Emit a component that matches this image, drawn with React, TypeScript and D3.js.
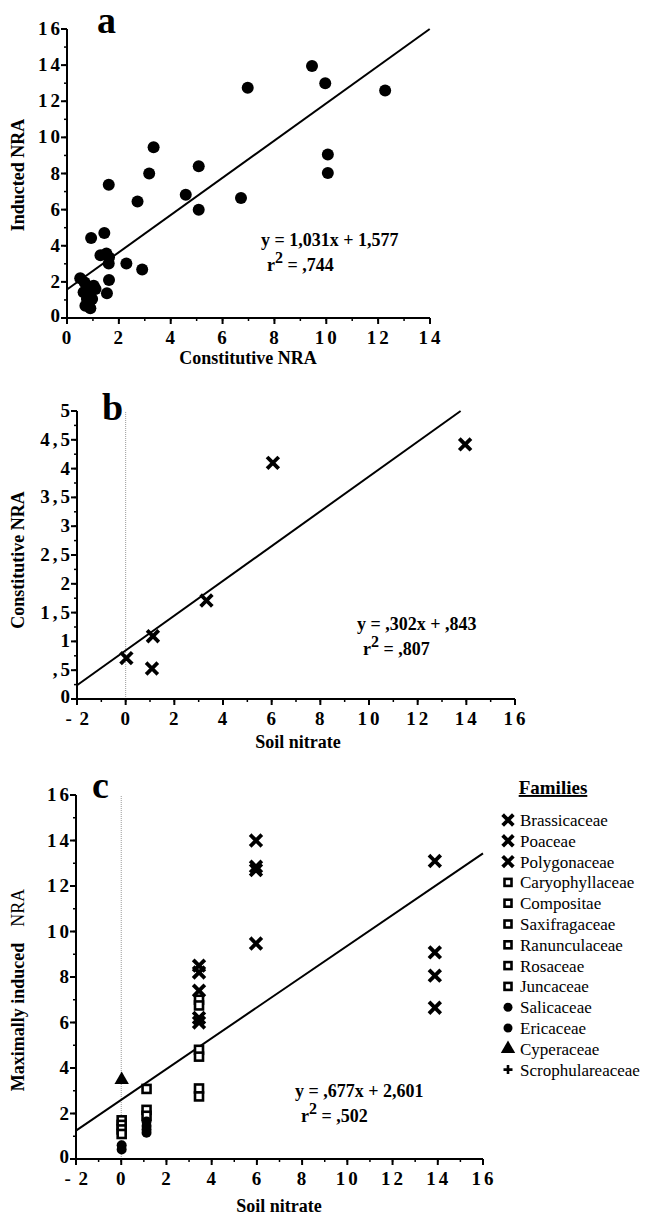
import React from 'react';
import * as d3 from 'd3';

const W = 654;
const H = 1216;
const SERIF = '"Liberation Serif", "Times New Roman", serif';

// panel a : inducted vs constitutive NRA
const aConstitutive = [9.45, 9.96, 6.97, 12.27, 3.34, 10.06, 10.06, 3.17, 5.08, 1.61, 2.72, 4.58, 5.08, 6.71, 0.93, 1.44, 1.29, 1.52, 1.62, 1.61, 2.29, 2.9, 1.62, 1.54, 0.51, 0.77, 1.03, 0.64, 0.9, 1.1, 0.77, 0.97, 0.71, 0.9, 0.84, 0.68];
const aInducted = [13.95, 13.0, 12.75, 12.6, 9.45, 9.05, 8.03, 8.0, 8.4, 7.38, 6.45, 6.83, 5.99, 6.65, 4.43, 4.71, 3.48, 3.57, 3.35, 3.02, 3.02, 2.69, 2.1, 1.37, 2.2, 1.78, 1.78, 1.42, 1.42, 1.6, 1.05, 1.05, 0.68, 0.54, 0.87, 1.97];
const aFit = [1.031, 1.577];

// panel b : constitutive NRA vs soil nitrate
const bNitrate = [0.03, 1.08, 1.12, 3.32, 6.05, 13.95];
const bConstitutive = [0.71, 0.53, 1.09, 1.71, 4.1, 4.42];
const bFit = [0.302, 0.843];

// panel c : maximally induced NRA vs soil nitrate, by symbol group
const cCrossX = [3.44, 3.44, 3.44, 3.44, 3.44, 5.96, 5.96, 5.96, 5.96, 13.87, 13.87, 13.87, 13.87];
const cCrossY = [8.5, 8.2, 7.4, 6.2, 6.0, 14.0, 12.85, 12.7, 9.47, 13.1, 9.08, 8.06, 6.65];
const cSquareX = [0.02, 0.02, 0.02, 0.02, 1.12, 1.12, 1.12, 3.44, 3.44, 3.44, 3.44, 3.44, 3.44];
const cSquareY = [1.7, 1.5, 1.3, 1.1, 3.08, 2.16, 1.9, 7.0, 6.75, 4.8, 4.5, 3.1, 2.75];
const cCircleX = [0.02, 0.02, 1.12, 1.12, 1.12, 1.12];
const cCircleY = [0.6, 0.42, 1.65, 1.45, 1.3, 1.15];
const cTriangleX = [0.02];
const cTriangleY = [3.48];
const cFit = [0.677, 2.601];

const families = ['Brassicaceae', 'Poaceae', 'Polygonaceae', 'Caryophyllaceae', 'Compositae', 'Saxifragaceae', 'Ranunculaceae', 'Rosaceae', 'Juncaceae', 'Salicaceae', 'Ericaceae', 'Cyperaceae', 'Scrophulareaceae'];
const familySymbols = ['x', 'x', 'x', 'sq', 'sq', 'sq', 'sq', 'sq', 'sq', 'o', 'o', 'tri', 'plus'];

// scales
const ax = d3.scaleLinear().domain([0, 14]).range([67, 430]);
const ay = d3.scaleLinear().domain([0, 16]).range([318, 29]);
const bx = d3.scaleLinear().domain([-2, 16]).range([77, 515]);
const by = d3.scaleLinear().domain([0, 5]).range([699, 411]);
const cx = d3.scaleLinear().domain([-2, 16]).range([76, 483]);
const cy = d3.scaleLinear().domain([0, 16]).range([1159, 795]);

// 4,5 style labels used on panel b
const commaFmt = (v) => {
  if (v === 0) return '0';
  if (Number.isInteger(v)) return String(v);
  const i = Math.floor(v);
  return (i ? String(i) : '') + ',5';
};

function Marker({ type, x, y, s = 5 }) {
  if (type === 'x')
    return (
      <path d={`M${x - s},${y - s}L${x + s},${y + s}M${x - s},${y + s}L${x + s},${y - s}`}
        stroke="#000" strokeWidth={3.8} strokeLinecap="square" />
    );
  if (type === 'sq')
    return <rect x={x - s + 1} y={y - s + 1} width={2 * s - 2} height={2 * s - 2} fill="#fff" stroke="#000" strokeWidth={2.6} />;
  if (type === 'o') return <circle cx={x} cy={y} r={s} fill="#000" />;
  if (type === 'tri')
    return <path transform={`translate(${x},${y})`} d={d3.symbol(d3.symbolTriangle, 90)()} fill="#000" />;
  return (
    <path d={`M${x - s},${y}L${x + s},${y}M${x},${y - s}L${x},${y + s}`} stroke="#000" strokeWidth={2.6} />
  );
}

function Axes({ x, y, xStep, yStep, xMinor, yMinor, yFmt = d3.format('d') }) {
  const [x0, x1] = x.domain();
  const [y0, y1] = y.domain();
  const left = x.range()[0];
  const bottom = y.range()[0];
  const xt = d3.range(x0, x1 + 1e-9, xStep);
  const yt = d3.range(y0, y1 + 1e-9, yStep);
  const xm = d3.range(x0, x1 + 1e-9, xMinor);
  const ym = d3.range(y0, y1 + 1e-9, yMinor);
  return (
    <g fontFamily={SERIF} fontWeight="bold" fontSize={19}>
      <line x1={left} x2={left} y1={bottom} y2={y.range()[1]} stroke="#000" strokeWidth={2} />
      <line x1={left} x2={x.range()[1]} y1={bottom} y2={bottom} stroke="#000" strokeWidth={2} />
      {xm.map((v) => (
        <line key={'xm' + v} x1={x(v)} x2={x(v)} y1={bottom} y2={bottom + 3} stroke="#000" strokeWidth={1.5} />
      ))}
      {ym.map((v) => (
        <line key={'ym' + v} x1={left} x2={left - 3} y1={y(v)} y2={y(v)} stroke="#000" strokeWidth={1.5} />
      ))}
      {xt.map((v) => (
        <g key={'x' + v}>
          <line x1={x(v)} x2={x(v)} y1={bottom} y2={bottom + 6} stroke="#000" strokeWidth={2} />
          <text x={x(v) + (v < 0 ? 1 : 1)} y={bottom + 26} textAnchor="middle" letterSpacing={v < 0 ? 1.5 : 3}>
            {v < 0 ? '- ' + Math.abs(v) : v}
          </text>
        </g>
      ))}
      {yt.map((v) => (
        <g key={'y' + v}>
          <line x1={left} x2={left - 6} y1={y(v)} y2={y(v)} stroke="#000" strokeWidth={2} />
          <text x={left - 4} y={y(v) + (v === 0 ? 4 : 6)} textAnchor="end" letterSpacing={3}>
            {yFmt(v)}
          </text>
        </g>
      ))}
    </g>
  );
}

function FitLine({ x, y, fit, yMax }) {
  const [x0, x1] = x.domain();
  const xEnd = Math.min(x1, (yMax - fit[1]) / fit[0]);
  return (
    <line x1={x(x0)} y1={y(fit[0] * x0 + fit[1])} x2={x(xEnd)} y2={y(fit[0] * xEnd + fit[1])}
      stroke="#000" strokeWidth={2} />
  );
}

function Equation({ xPos, yPos, eq, r2 }) {
  return (
    <g fontFamily={SERIF} fontWeight="bold" fontSize={18}>
      <text x={xPos} y={yPos}>{eq}</text>
      <text x={xPos + 6} y={yPos + 25}>
        r<tspan dy={-8} fontSize={16}>2</tspan>
        <tspan dy={8}> = {r2}</tspan>
      </text>
    </g>
  );
}

export default function App() {
  return (
    <svg width={W} height={H} style={{ position: 'absolute', left: 0, top: 0, background: '#fff' }}>
      <rect width={W} height={H} fill="#fff" />

      {/* panel a */}
      <Axes x={ax} y={ay} xStep={2} yStep={2} xMinor={1} yMinor={1} />
      <FitLine x={ax} y={ay} fit={aFit} yMax={16} />
      {aConstitutive.map((v, i) => (
        <circle key={i} cx={ax(v)} cy={ay(aInducted[i])} r={6} fill="#000" />
      ))}
      <text x={97} y={33} fontFamily={SERIF} fontWeight="bold" fontSize={38}>a</text>
      <text transform="translate(24,175) rotate(-90)" textAnchor="middle" fontFamily={SERIF} fontWeight="bold" fontSize={18}>
        Inducted NRA
      </text>
      <text x={248} y={364} textAnchor="middle" fontFamily={SERIF} fontWeight="bold" fontSize={18}>Constitutive NRA</text>
      <Equation xPos={261} yPos={246} eq="y = 1,031x + 1,577" r2=",744" />

      {/* panel b */}
      <line x1={bx(0)} x2={bx(0)} y1={by(0)} y2={by(5)} stroke="#999" strokeWidth={1} strokeDasharray="1,1" />
      <Axes x={bx} y={by} xStep={2} yStep={0.5} xMinor={1} yMinor={0.25} yFmt={commaFmt} />
      <FitLine x={bx} y={by} fit={bFit} yMax={5} />
      {bNitrate.map((v, i) => (
        <Marker key={i} type="x" x={bx(v)} y={by(bConstitutive[i])} s={4.5} />
      ))}
      <text x={102} y={420} fontFamily={SERIF} fontWeight="bold" fontSize={38}>b</text>
      <text transform="translate(24,560) rotate(-90)" textAnchor="middle" fontFamily={SERIF} fontWeight="bold" fontSize={18}>
        Constitutive NRA
      </text>
      <text x={298} y={748} textAnchor="middle" fontFamily={SERIF} fontWeight="bold" fontSize={18}>Soil nitrate</text>
      <Equation xPos={357} yPos={630} eq="y = ,302x + ,843" r2=",807" />

      {/* panel c */}
      <line x1={cx(0)} x2={cx(0)} y1={cy(0)} y2={cy(16)} stroke="#999" strokeWidth={1} strokeDasharray="1,1" />
      <Axes x={cx} y={cy} xStep={2} yStep={2} xMinor={1} yMinor={1} />
      <FitLine x={cx} y={cy} fit={cFit} yMax={16} />
      {cSquareX.map((v, i) => (
        <Marker key={'s' + i} type="sq" x={cx(v)} y={cy(cSquareY[i])} s={5} />
      ))}
      {cCircleX.map((v, i) => (
        <Marker key={'o' + i} type="o" x={cx(v)} y={cy(cCircleY[i])} s={5} />
      ))}
      {cTriangleX.map((v, i) => (
        <Marker key={'t' + i} type="tri" x={cx(v)} y={cy(cTriangleY[i])} />
      ))}
      {cCrossX.map((v, i) => (
        <Marker key={'x' + i} type="x" x={cx(v)} y={cy(cCrossY[i])} s={4.5} />
      ))}
      <text x={92} y={798} fontFamily={SERIF} fontWeight="bold" fontSize={38}>c</text>
      <text transform="translate(24,990) rotate(-90)" textAnchor="middle" fontFamily={SERIF} fontSize={18}>
        <tspan fontWeight="bold">Maximally induced</tspan>
        <tspan dx={16}>NRA</tspan>
      </text>
      <text x={279} y={1212} textAnchor="middle" fontFamily={SERIF} fontWeight="bold" fontSize={18}>Soil nitrate</text>
      <Equation xPos={295} yPos={1097} eq="y = ,677x + 2,601" r2=",502" />

      {/* legend */}
      <text x={553} y={794} textAnchor="middle" fontFamily={SERIF} fontWeight="bold" fontSize={19} textDecoration="underline">
        Families
      </text>
      {families.map((f, i) => (
        <g key={f}>
          <Marker type={familySymbols[i]} x={508} y={820 + i * 20.8} s={familySymbols[i] === 'x' ? 4 : 4.5} />
          <text x={520} y={826 + i * 20.8} fontFamily={SERIF} fontSize={17}>{f}</text>
        </g>
      ))}
    </svg>
  );
}
